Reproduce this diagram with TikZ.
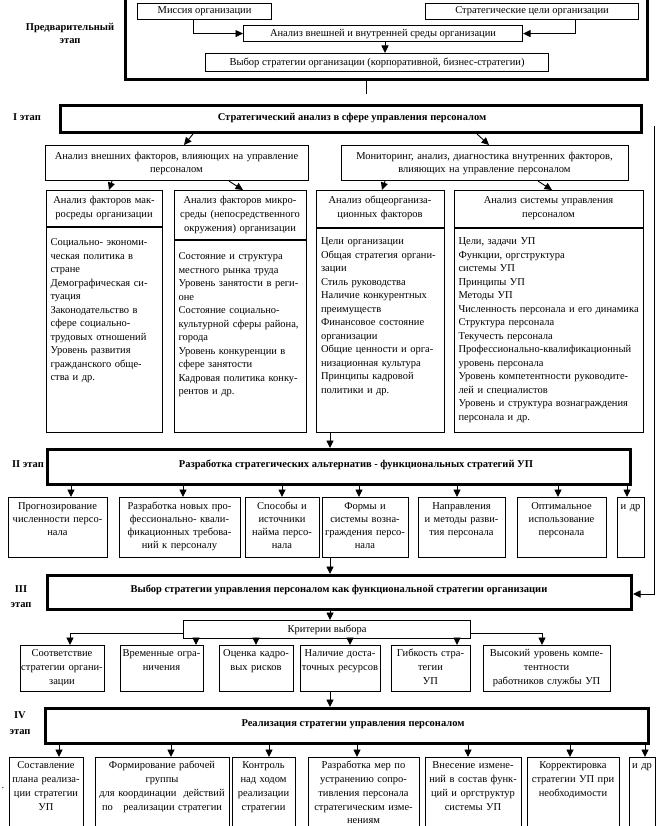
\documentclass[tikz,border=0pt]{standalone}
\usepackage{fontspec}
\setmainfont{Liberation Serif}
\usetikzlibrary{arrows.meta}
\newcommand\fb{\fontsize{10.5}{12.8}\selectfont}
\newcommand\fc{\fontsize{10.5}{13.5}\selectfont}
\newcommand\fh{\fontsize{10.5}{14}\selectfont}
\newcommand\jl[1]{\makebox[\linewidth][s]{#1}}
\newcommand\BX[7][bx]{%
  \pgfmathsetmacro\bxw{#5-#3}%
  \pgfmathsetmacro\bxh{#6-#4}%
  \node[#1, minimum width=\bxw pt, minimum height=\bxh pt, anchor=north west] (#2) at (#3,#4) {#7};}
\newcommand\TX[6][]{%
  \node[tx, text width=#5pt, anchor=north, #1] (#2) at (#3,{#4-5.5}) {\rule{0pt}{9pt}#6};}
\tikzset{
  bx/.style={draw=black, line width=1.1pt, inner sep=0pt, rectangle, font=\fb},
  thk/.style={draw=black, line width=3pt, inner sep=0pt, rectangle},
  tx/.style={inner sep=0pt, align=center, font=\fb},
  lab/.style={inner sep=0pt, align=center, font=\bfseries\fontsize{10.5}{13}\selectfont},
  ttl/.style={inner sep=0pt, font=\bfseries\fontsize{10.5}{13}\selectfont},
  arr/.style={line width=0.9pt, -{Triangle[length=7.5pt,width=7pt]}},
  ln/.style={line width=0.9pt},
  dl/.style={line width=1.1pt},
}
\begin{document}
\begin{tikzpicture}[x=1pt,y=-1pt]
\useasboundingbox (0,0) rectangle (661,826);
\fill[white] (0,0) rectangle (661,826);
\clip (0,0) rectangle (661,826);

% ---------- preliminary stage
\BX[thk]{pre}{124}{-6}{646}{78}{}
\BX{mis}{137}{3}{271}{19}{Миссия организации}
\BX{sgl}{425}{3}{638}{19}{Стратегические цели организации}
\BX{anz}{243}{25}{522}{41}{Анализ внешней и внутренней среды организации}
\BX{vyb}{205}{53}{548}{71}{Выбор стратегии организации (корпоративной, бизнес-стратегии)}
\node[lab] (lpre) at (70,33) {Предварительный\\этап};
\coordinate (xm) at (193,0);
\coordinate (xs) at (575,0);
\coordinate (xa) at (385,0);
\coordinate (xp) at (366,0);
\coordinate (pend) at (366,94);
\draw[arr] (mis.south -| xm) |- (anz.west);
\draw[arr] (sgl.south -| xs) |- (anz.east);
\draw[arr] (anz.south -| xa) -- (vyb.north -| xa);
\draw[ln] (pre.south -| xp) -- (pend);

% ---------- stage I
\node[lab] (l1) at (27,117) {I этап};
\BX[thk]{st1}{59}{104}{640}{131}{}
\node[ttl] (t1) at (352,117.5) {Стратегический анализ в сфере управления персоналом};
\BX{h1}{45}{145}{308}{180}{}
\TX{h1t}{176.5}{156}{280}{Анализ внешних факторов, влияющих на управление\\персоналом}
\BX{h2}{341}{145}{628}{180}{}
\TX{h2t}{484.5}{156}{300}{Мониторинг, анализ, диагностика внутренних факторов,\\влияющих на управление персоналом}

\BX{c1}{46}{190}{162}{432}{}
\BX{c2}{174}{190}{306}{432}{}
\BX{c3}{316}{190}{444}{432}{}
\BX{c4}{454}{190}{643}{432}{}
\coordinate (d1) at (0,227);
\coordinate (d2) at (0,240);
\coordinate (d3) at (0,228);
\draw[dl] (c1.west |- d1) -- (c1.east |- d1);
\draw[dl] (c2.west |- d2) -- (c2.east |- d2);
\draw[dl] (c3.west |- d3) -- (c3.east |- d3);
\draw[dl] (c4.west |- d3) -- (c4.east |- d3);

\TX[font=\fh]{c1h}{104}{200}{130}{Анализ факторов мак-\\росреды организации}
\TX[font=\fh]{c2h}{240}{200}{150}{Анализ факторов микро-\\среды (непосредственного\\окружения) организации}
\TX[font=\fh]{c3h}{380}{200}{140}{Анализ общеорганиза-\\ционных факторов}
\TX[font=\fh]{c4h}{548.5}{200}{200}{Анализ системы управления\\персоналом}

\TX[align=left, font=\fc]{c1b}{104}{242}{107}{%
\jl{Социально- экономи-}\\
\jl{ческая политика в}\\
стране\\
\jl{Демографическая си-}\\
туация\\
\jl{Законодательство в}\\
\jl{сфере социально-}\\
трудовых отношений\\
\jl{Уровень развития}\\
\jl{гражданского обще-}\\
ства и др.}
\TX[align=left, font=\fc]{c2b}{240}{256}{123}{%
\jl{Состояние и структура}\\
местного рынка труда\\
\jl{Уровень занятости в реги-}\\
оне\\
\jl{Состояние социально-}\\
\jl{культурной сферы района,}\\
города\\
\jl{Уровень конкуренции в}\\
сфере занятости\\
\jl{Кадровая политика конку-}\\
рентов и др.}
\TX[align=left, font=\fc]{c3b}{380}{241}{118}{%
Цели организации\\
\jl{Общая стратегия органи-}\\
зации\\
Стиль руководства\\
\jl{Наличие конкурентных}\\
преимуществ\\
\jl{Финансовое состояние}\\
организации\\
\jl{Общие ценности и орга-}\\
низационная культура\\
\jl{Принципы кадровой}\\
политики и др.}
\TX[align=left, font=\fc]{c4b}{548.5}{241}{180}{%
Цели, задачи УП\\
Функции, оргструктура\\
системы УП\\
Принципы УП\\
Методы УП\\
\mbox{Численность персонала и его динамика}\\
Структура персонала\\
Текучесть персонала\\
\mbox{Профессионально-квалификационный}\\
уровень персонала\\
\jl{Уровень компетентности руководите-}\\
лей и специалистов\\
\jl{Уровень и структура вознаграждения}\\
персонала и др.}

\coordinate (q1) at (193,0);
\coordinate (q2) at (184,0);
\coordinate (q3) at (477,0);
\coordinate (q4) at (489,0);
\draw[arr] (st1.south -| q1) -- (h1.north -| q2);
\draw[arr] (st1.south -| q3) -- (h2.north -| q4);
\coordinate (r1) at (112,0);
\coordinate (r2) at (109,0);
\coordinate (r3) at (229,0);
\coordinate (r4) at (243,0);
\coordinate (r5) at (385,0);
\coordinate (r6) at (382,0);
\coordinate (r7) at (538,0);
\coordinate (r8) at (552,0);
\draw[arr] (h1.south -| r1) -- (c1.north -| r2);
\draw[arr] (h1.south -| r3) -- (c2.north -| r4);
\draw[arr] (h2.south -| r5) -- (c3.north -| r6);
\draw[arr] (h2.south -| r7) -- (c4.north -| r8);

% feedback line
\coordinate (fbt) at (654,126);
\coordinate (fby) at (0,594);

% ---------- stage II
\coordinate (k) at (330,0);
\node[lab] (l2) at (28,464) {II этап};
\BX[thk]{st2}{46}{448}{629}{483}{}
\node[ttl] (t2) at (356,465) {Разработка стратегических альтернатив - функциональных стратегий УП};
\draw[arr] (c3.south -| k) -- (st2.north -| k);

\BX{b1}{8}{497}{107}{557}{}
\BX{b2}{119}{497}{240}{557}{}
\BX{b3}{245}{497}{319}{557}{}
\BX{b4}{322}{497}{408}{557}{}
\BX{b5}{418}{497}{505}{557}{}
\BX{b6}{517}{497}{606}{557}{}
\BX{b7}{617}{497}{644}{557}{}
\TX{b1t}{57.5}{506}{120}{Прогнозирование\\численности персо-\\нала}
\TX{b2t}{179.5}{506}{140}{Разработка новых про-\\фессионально- квали-\\фикационных требова-\\ний к персоналу}
\TX{b3t}{282}{506}{100}{Способы и\\источники\\найма персо-\\нала}
\TX{b4t}{365}{506}{110}{Формы и\\системы возна-\\граждения персо-\\нала}
\TX{b5t}{461.5}{506}{110}{Направления\\и методы разви-\\тия персонала}
\TX{b6t}{561.5}{506}{110}{Оптимальное\\использование\\персонала}
\TX{b7t}{630.5}{506}{40}{и др}
\coordinate (e1) at (71,0);
\coordinate (e2) at (183,0);
\coordinate (e3) at (282,0);
\coordinate (e4) at (359,0);
\coordinate (e5) at (457,0);
\coordinate (e6) at (558,0);
\coordinate (e7) at (627,0);
\draw[arr] (st2.south -| e1) -- (b1.north -| e1);
\draw[arr] (st2.south -| e2) -- (b2.north -| e2);
\draw[arr] (st2.south -| e3) -- (b3.north -| e3);
\draw[arr] (st2.south -| e4) -- (b4.north -| e4);
\draw[arr] (st2.south -| e5) -- (b5.north -| e5);
\draw[arr] (st2.south -| e6) -- (b6.north -| e6);
\draw[arr] (st2.south -| e7) -- (b7.north -| e7);

% ---------- stage III
\node[lab, font=\bfseries\fontsize{10.5}{15}\selectfont] (l3) at (21,597) {III\\этап};
\BX[thk]{st3}{46}{574}{630}{608}{}
\node[ttl] (t3) at (339,590) {Выбор стратегии управления персоналом как функциональной стратегии организации};
\draw[arr] (b4.south -| k) -- (st3.north -| k);
\draw[arr] (fbt) |- (st3.east |- fby);
\BX{krit}{183}{620}{470}{638}{Критерии выбора}
\draw[arr] (st3.south -| k) -- (krit.north -| k);

\BX{g1}{20}{645}{104}{691}{}
\BX{g2}{120}{645}{203}{691}{}
\BX{g3}{219}{645}{293}{691}{}
\BX{g4}{300}{645}{380}{691}{}
\BX{g5}{391}{645}{470}{691}{}
\BX{g6}{483}{645}{610}{691}{}
\TX[font=\fh]{g1t}{62}{653}{110}{Соответствие\\стратегии органи-\\зации}
\TX[font=\fh]{g2t}{161.5}{653}{110}{Временные огра-\\ничения}
\TX[font=\fh]{g3t}{256}{653}{100}{Оценка кадро-\\вых рисков}
\TX[font=\fh]{g4t}{340}{653}{100}{Наличие доста-\\точных ресурсов}
\TX[font=\fh]{g5t}{430.5}{653}{100}{Гибкость стра-\\тегии\\УП}
\TX[font=\fh]{g6t}{546.5}{653}{150}{Высокий уровень компе-\\тентности\\работников службы УП}
\coordinate (ky) at (0,633);
\coordinate (f1) at (70,0);
\coordinate (f2) at (196,0);
\coordinate (f3) at (256,0);
\coordinate (f4) at (350,0);
\coordinate (f5) at (457,0);
\coordinate (f6) at (542,0);
\draw[arr] (krit.west |- ky) -| (g1.north -| f1);
\draw[arr] (krit.east |- ky) -| (g6.north -| f6);
\draw[arr] (krit.south -| f2) -- (g2.north -| f2);
\draw[arr] (krit.south -| f3) -- (g3.north -| f3);
\draw[arr] (krit.south -| f4) -- (g4.north -| f4);
\draw[arr] (krit.south -| f5) -- (g5.north -| f5);

% ---------- stage IV
\node[lab, font=\bfseries\fontsize{10.5}{16}\selectfont] (l4) at (20,723) {IV\\этап};
\BX[thk]{st4}{44}{707}{647}{742}{}
\node[ttl] (t4) at (353,724) {Реализация стратегии управления персоналом};
\draw[arr] (g4.south -| k) -- (st4.north -| k);

\BX{i1}{9}{757}{83}{834}{}
\BX{i2}{95}{757}{229}{834}{}
\BX{i3}{232}{757}{295}{834}{}
\BX{i4}{308}{757}{419}{834}{}
\BX{i5}{425}{757}{521}{834}{}
\BX{i6}{527}{757}{619}{834}{}
\BX{i7}{629}{757}{655}{834}{}
\TX[font=\fontsize{10.5}{13.8}\selectfont]{i1t}{46}{765}{100}{Составление\\плана реализа-\\ции стратегии\\УП}
\TX[font=\fontsize{10.5}{13.8}\selectfont]{i2t}{162}{765}{150}{Формирование рабочей\\группы\\для координации\ \ действий\\по\ \ \ реализации стратегии}
\TX[font=\fontsize{10.5}{13.8}\selectfont]{i3t}{263.5}{765}{90}{Контроль\\над ходом\\реализации\\стратегии}
\TX[font=\fontsize{10.5}{13.8}\selectfont]{i4t}{363.5}{765}{130}{Разработка мер по\\устранению сопро-\\тивления персонала\\стратегическим изме-\\нениям}
\TX[font=\fontsize{10.5}{13.8}\selectfont]{i5t}{473}{765}{120}{Внесение измене-\\ний в состав функ-\\ций и оргструктур\\системы УП}
\TX[font=\fontsize{10.5}{13.8}\selectfont]{i6t}{573}{765}{110}{Корректировка\\стратегии УП при\\необходимости}
\TX[font=\fontsize{10.5}{13.8}\selectfont]{i7t}{642}{765}{40}{и др}
\coordinate (j1) at (59,0);
\coordinate (j2) at (171,0);
\coordinate (j3) at (269,0);
\coordinate (j4) at (357,0);
\coordinate (j5) at (468,0);
\coordinate (j6) at (570,0);
\coordinate (j7) at (645,0);
\draw[arr] (st4.south -| j1) -- (i1.north -| j1);
\draw[arr] (st4.south -| j2) -- (i2.north -| j2);
\draw[arr] (st4.south -| j3) -- (i3.north -| j3);
\draw[arr] (st4.south -| j4) -- (i4.north -| j4);
\draw[arr] (st4.south -| j5) -- (i5.north -| j5);
\draw[arr] (st4.south -| j6) -- (i6.north -| j6);
\draw[arr] (st4.south -| j7) -- (i7.north -| j7);
\node[inner sep=0pt, font=\fb] (dot) at (3,788) {.};
\end{tikzpicture}
\end{document}
